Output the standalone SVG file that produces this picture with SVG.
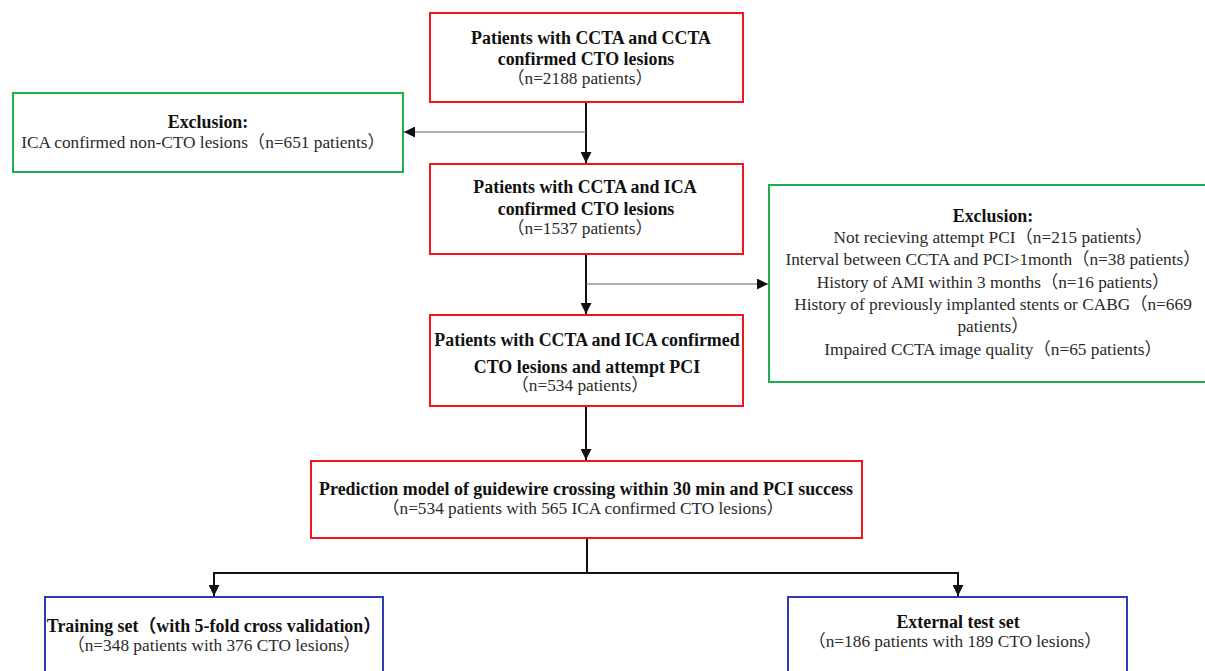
<svg xmlns="http://www.w3.org/2000/svg" width="1205" height="671" viewBox="0 0 1205 671">
<defs>
<style>
.red{fill:#fff;stroke:#f0141c;stroke-width:2}
.green{fill:#fff;stroke:#1fae4a;stroke-width:2}
.blue{fill:#fff;stroke:#2b3bb0;stroke-width:2}
.b{font-family:"Liberation Serif","Noto Sans CJK SC",serif;font-weight:bold;font-size:17.9px;fill:#111;text-anchor:middle}
.r{font-family:"Liberation Serif","Noto Sans CJK SC",serif;font-size:17.3px;fill:#2a2a2a;text-anchor:middle}
.main{stroke:#111;stroke-width:2;fill:none}
.side{stroke:#666;stroke-width:1.2;fill:none}
</style>
<marker id="ah2" viewBox="0 0 10 10" refX="10" refY="5" markerWidth="11" markerHeight="11" markerUnits="userSpaceOnUse" orient="auto"><path d="M0,0 L10,5 L0,10 z" fill="#111"/></marker>
</defs>
<rect width="1205" height="671" fill="#fff"/>
<g id="connectors">
<line class="main" x1="586" y1="102" x2="586" y2="163" marker-end="url(#ah2)"/>
<line class="side" x1="586" y1="132" x2="404" y2="132" marker-end="url(#ah2)"/>
<line class="main" x1="586" y1="254" x2="586" y2="314" marker-end="url(#ah2)"/>
<line class="side" x1="586" y1="284" x2="768" y2="284" marker-end="url(#ah2)"/>
<line class="main" x1="586" y1="406" x2="586" y2="460" marker-end="url(#ah2)"/>
<polyline class="main" points="587,538 587,573 214,573 214,596" marker-end="url(#ah2)"/>
<polyline class="main" points="587,573 958,573 958,596" marker-end="url(#ah2)"/>
</g>
<g id="n1">
<rect class="red" x="430" y="13" width="313" height="89"/>
<text class="b" x="591" y="44">Patients with CCTA and CCTA</text>
<text class="b" x="586" y="65">confirmed CTO lesions</text>
<text class="r" x="580" y="84">（n=2188 patients）</text>
</g>
<g id="exclusion1">
<rect class="green" x="13" y="93" width="390" height="79"/>
<text class="b" x="208" y="128">Exclusion:</text>
<text class="r" x="203" y="148">ICA confirmed non-CTO lesions（n=651 patients）</text>
</g>
<g id="n2">
<rect class="red" x="430" y="164" width="313" height="90"/>
<text class="b" x="585" y="193">Patients with CCTA and ICA</text>
<text class="b" x="586" y="215">confirmed CTO lesions</text>
<text class="r" x="580" y="234">（n=1537 patients）</text>
</g>
<g id="exclusion2">
<rect class="green" x="769" y="185" width="445" height="197"/>
<text class="b" x="993" y="222">Exclusion:</text>
<text class="r" x="993" y="243">Not recieving attempt PCI（n=215 patients）</text>
<text class="r" x="993" y="265">Interval between CCTA and PCI&gt;1month（n=38 patients）</text>
<text class="r" x="993" y="288">History of AMI within 3 months（n=16 patients）</text>
<text class="r" x="993" y="310">History of previously implanted stents or CABG（n=669</text>
<text class="r" x="993" y="332">patients）</text>
<text class="r" x="993" y="355">Impaired CCTA image quality（n=65 patients）</text>
</g>
<g id="n3">
<rect class="red" x="430" y="315" width="313" height="91"/>
<text class="b" x="587" y="346">Patients with CCTA and ICA confirmed</text>
<text class="b" x="587" y="373">CTO lesions and attempt PCI</text>
<text class="r" x="580" y="391">（n=534 patients）</text>
</g>
<g id="n4">
<rect class="red" x="311" y="461" width="551" height="77"/>
<text class="b" x="586" y="495">Prediction model of guidewire crossing within 30 min and PCI success</text>
<text class="r" x="583" y="514">（n=534 patients with 565 ICA confirmed CTO lesions）</text>
</g>
<g id="training">
<rect class="blue" x="45" y="597" width="338" height="90"/>
<text class="b" x="214" y="632">Training set（with 5-fold cross validation）</text>
<text class="r" x="214" y="651">（n=348 patients with 376 CTO lesions）</text>
</g>
<g id="external">
<rect class="blue" x="788" y="597" width="339" height="90"/>
<text class="b" x="958" y="628">External test set</text>
<text class="r" x="955" y="647">（n=186 patients with 189 CTO lesions）</text>
</g>
</svg>
